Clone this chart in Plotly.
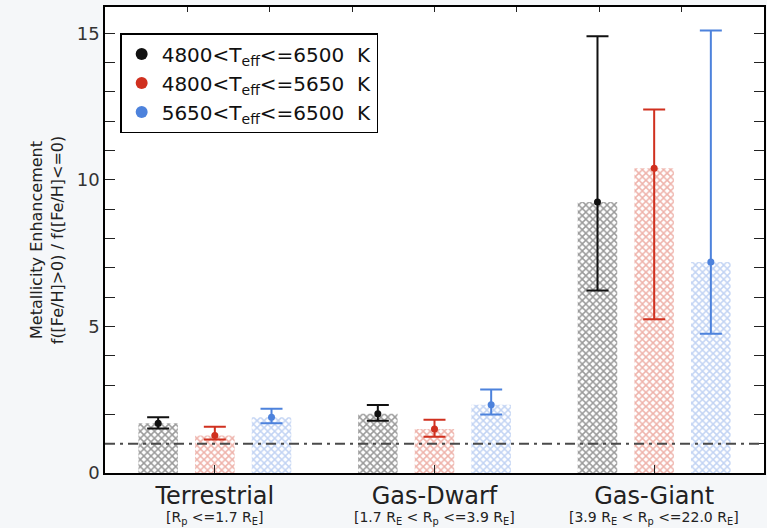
import plotly.graph_objects as go

# planet size classes (bottom axis labels)
groups = ["Terrestrial", "Gas-Dwarf", "Gas-Giant"]
group_ranges = ["[R<sub>p</sub> &lt;=1.7 R<sub>E</sub>]",
                "[1.7 R<sub>E</sub> &lt; R<sub>p</sub> &lt;=3.9 R<sub>E</sub>]",
                "[3.9 R<sub>E</sub> &lt; R<sub>p</sub> &lt;=22.0 R<sub>E</sub>]"]

# metallicity enhancement ratio per Teff bin, with error bar limits
all_val = [1.70, 2.02, 9.25]
all_lo = [1.52, 1.78, 6.23]
all_hi = [1.90, 2.32, 14.9]

cool_val = [1.28, 1.50, 10.4]
cool_lo = [1.14, 1.24, 5.25]
cool_hi = [1.58, 1.82, 12.4]

hot_val = [1.90, 2.33, 7.20]
hot_lo = [1.70, 2.00, 4.75]
hot_hi = [2.19, 2.85, 15.1]

ratio_one = 1.0

series = [
    ("4800&lt;T<sub>eff</sub>&lt;=6500  K", all_val, all_lo, all_hi, "#111111", "#333333"),
    ("4800&lt;T<sub>eff</sub>&lt;=5650  K", cool_val, cool_lo, cool_hi, "#d0301f", "#dd6656"),
    ("5650&lt;T<sub>eff</sub>&lt;=6500  K", hot_val, hot_lo, hot_hi, "#4d82dc", "#85a8e8"),
]

PITCH = 0.258   # spacing of bars inside a group (axis units)
BAR_W = 0.18

fig = go.Figure()
xs = list(range(len(groups)))
for k, (name, val, lo, hi, col, hatch) in enumerate(series):
    xpos = [x + (k - 1) * PITCH for x in xs]
    fig.add_bar(
        x=xpos, y=val, width=BAR_W, showlegend=False, hoverinfo="skip",
        marker=dict(color="white", line=dict(width=0),
                    pattern=dict(shape="x", fgcolor=hatch, bgcolor="white",
                                 size=5, solidity=0.5)),
    )
for k, (name, val, lo, hi, col, hatch) in enumerate(series):
    xpos = [x + (k - 1) * PITCH for x in xs]
    fig.add_scatter(
        x=xpos, y=val, mode="markers", name=name,
        marker=dict(color=col, size=7),
        error_y=dict(type="data", symmetric=False,
                     array=[h - v for h, v in zip(hi, val)],
                     arrayminus=[v - l for v, l in zip(val, lo)],
                     color=col, thickness=2, width=11),
    )

# invisible trace so the top axis (IDL-style ticks) is drawn
fig.add_scatter(x=[None], y=[None], xaxis="x2", showlegend=False, hoverinfo="skip")

fig.add_hline(y=ratio_one, line=dict(color="#4a4a4a", width=2, dash="10px,5px,3px,5px"))

for x, r in zip(xs, group_ranges):
    fig.add_annotation(x=x, y=0, xref="x", yref="paper", yanchor="top", yshift=-34,
                       text=r, showarrow=False, font=dict(size=14, color="#222"))

fig.update_layout(
    width=767, height=528,
    margin=dict(l=105, r=3, t=7, b=55),
    paper_bgcolor="#f5f7f9", plot_bgcolor="white",
    font=dict(family="DejaVu Sans, sans-serif", color="#222222"),
    barmode="overlay",
    legend=dict(x=0.023, y=0.944, xanchor="left", yanchor="top",
                bgcolor="white", bordercolor="black", borderwidth=1.5,
                font=dict(size=20, color="#111"), itemsizing="constant", tracegroupgap=0),
    xaxis=dict(range=[-0.5, 2.5], tickvals=xs, ticktext=groups, automargin=False,
               tickfont=dict(size=24), ticks="inside", ticklen=8, tickcolor="#222",
               showline=True, linecolor="black", linewidth=1.5, mirror=True,
               showgrid=False, zeroline=False),
    xaxis2=dict(range=[-0.5, 2.5], overlaying="x", side="top", anchor="y", automargin=False,
                tick0=1, dtick=0.375, ticks="inside", ticklen=5, tickcolor="#222",
                showline=True, linecolor="black", linewidth=1.5,
                showticklabels=False, showgrid=False, zeroline=False),
    yaxis=dict(range=[0, 15.9], tickvals=[0, 5, 10, 15], tickfont=dict(size=18, color="#333"),
               ticks="inside", ticklen=10, tickcolor="#222", automargin=False,
               minor=dict(dtick=1, ticks="inside", ticklen=5, tickcolor="#222"),
               showline=True, linecolor="black", linewidth=1.5, mirror="allticks",
               showgrid=False, zeroline=False,
               title=dict(text="Metallicity Enhancement<br>f([Fe/H]>0) / f([Fe/H]&lt;=0)",
                          font=dict(size=16), standoff=9)),
)

# drop the default page margin so the figure sits at the window's corner
fig.write_html("out.html", config={"displayModeBar": False},
               post_script="document.body.style.margin='0';")
